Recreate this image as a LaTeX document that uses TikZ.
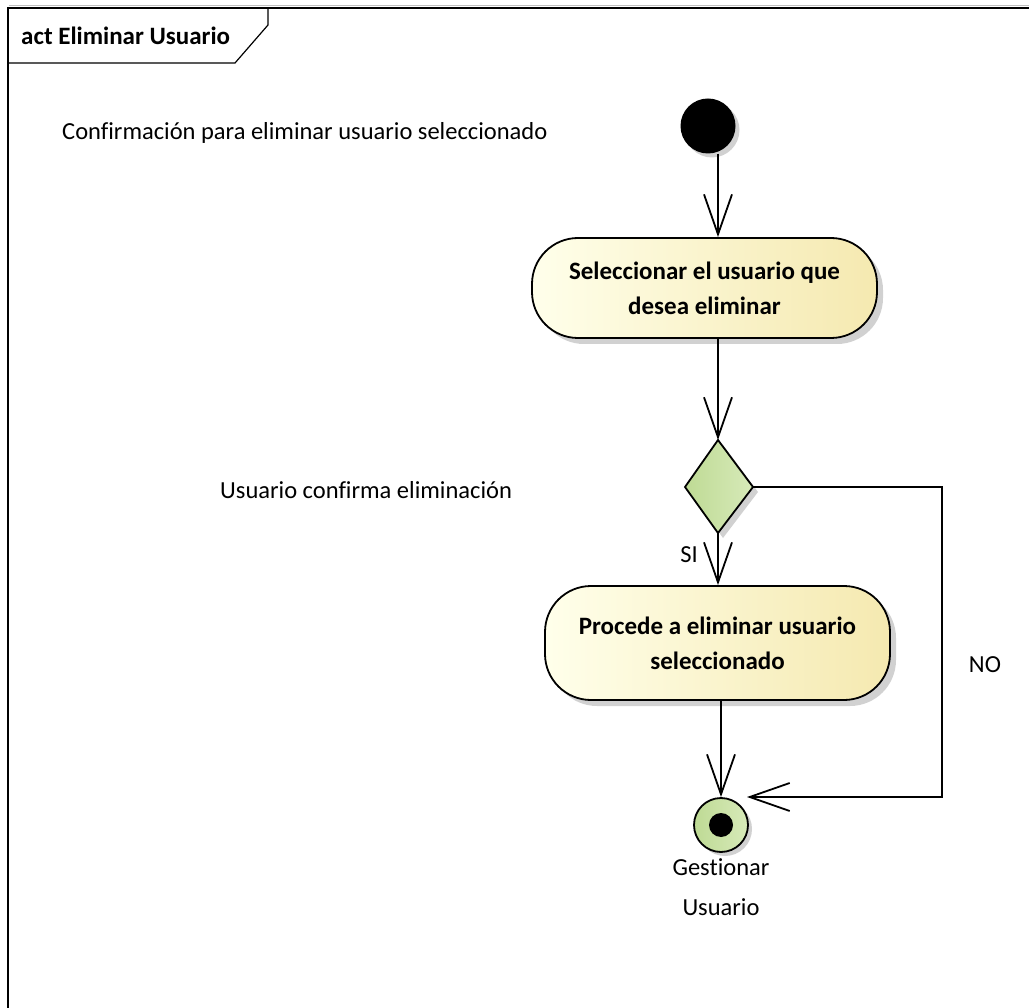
\documentclass[tikz,border=0pt]{standalone}
\usepackage{fontspec}
\setmainfont[Ligatures=NoCommon]{Carlito}
\usetikzlibrary{arrows.meta,shadows,calc}
\begin{document}
\begin{tikzpicture}[x=1pt,y=-1pt,
  flow/.style={line width=1.8pt,-{Straight Barb[length=40pt,width=28pt,line width=1.8pt]}},
  actbox/.style={draw,line width=1.8pt,rounded corners=46pt,left color=yellow!8!white,right color={rgb,255:red,245;green,233;blue,176},
    minimum width=345pt,align=center,font=\fontsize{25}{35}\selectfont\bfseries,
    drop shadow={shadow xshift=6pt,shadow yshift=-6pt,fill=black!18,opacity=1}},
  lbl/.style={font=\fontsize{24.5}{38}\selectfont,inner sep=0pt}]
\useasboundingbox (0,0) rectangle (1029,1008);
% frame
\draw[black!25,line width=1pt] (9,6) -- (1029,6);
\draw[line width=1.5pt] (8,1008) -- (8,8) -- (1029,8);
\draw[line width=1.2pt] (8,63) -- (235,63) -- (268,25) -- (268,8);
\node[font=\fontsize{25}{30}\selectfont\bfseries,anchor=west,inner sep=0pt] (title) at (21,36) {act Eliminar Usuario};
% nodes
\node[circle,fill=black,minimum size=55pt,inner sep=0pt,drop shadow={shadow xshift=4pt,shadow yshift=-4pt,fill=black!18,opacity=1}] (init) at (708,126) {};
\node[actbox,minimum height=100pt] (act1) at (704.5,288) {Seleccionar el usuario que\\desea eliminar};
\path (718,440) coordinate (dt) (685,487) coordinate (dl) (753,487) coordinate (dr) (718,533) coordinate (db);
\filldraw[line width=1.8pt,left color={rgb,255:red,190;green,218;blue,148},right color={rgb,255:red,215;green,234;blue,185},
  drop shadow={shadow xshift=5pt,shadow yshift=-5pt,fill=black!18,opacity=1}] (dt) -- (dr) -- (db) -- (dl) -- cycle;
\node[inner sep=0pt,minimum size=0pt] (dec) at (718,487) {};
\node[actbox,minimum height=114pt] (act2) at (717.5,643) {Procede a eliminar usuario\\seleccionado};
\node[circle,draw,line width=1.8pt,minimum size=54pt,inner sep=0pt,left color={rgb,255:red,190;green,218;blue,148},right color={rgb,255:red,215;green,234;blue,185},
  drop shadow={shadow xshift=4pt,shadow yshift=-4pt,fill=black!18,opacity=1}] (fin) at (721,825) {};
\fill (fin) circle (12pt);
% texts
\node[lbl,anchor=west] (t1) at (62,133) {Confirmación para eliminar usuario seleccionado};
\node[lbl,anchor=west] (t2) at (220,490) {Usuario confirma eliminación};
\node[lbl] (si) at (689,555) {SI};
\node[lbl] (no) at (985,665) {NO};
\node[lbl,align=center,font=\fontsize{24.5}{40}\selectfont,anchor=north] (finl) at (721,858) {Gestionar\\Usuario};
% connectors
\coordinate (c1) at (942,797);
\coordinate (fe) at (747,797);
\draw[flow] (dt |- init.south) -- (dt |- act1.north);
\draw[flow] (dt |- act1.south) -- (dt);
\draw[flow] (db) -- (db |- act2.north);
\draw[flow] (fin.north |- act2.south) -- (fin.north);
\draw[flow] (dr) -- (dr -| c1) -- (c1) -- (fe);
\end{tikzpicture}
\end{document}
